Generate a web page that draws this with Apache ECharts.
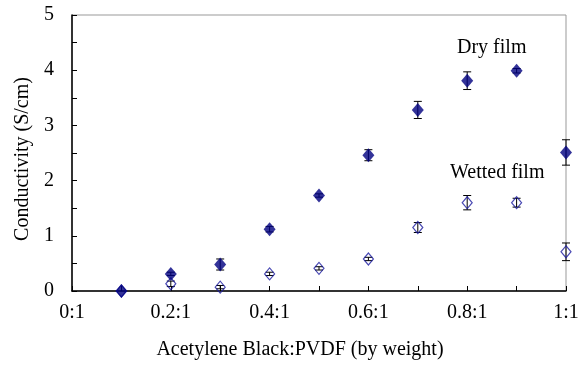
<!DOCTYPE html>
<html><head><meta charset="utf-8">
<script src="https://cdn.jsdelivr.net/npm/echarts@6/dist/echarts.min.js"></script>
<style>html,body{margin:0;padding:0;background:#fff}#c{width:587px;height:371px}</style>
</head><body><div id="c"></div>
<script>
const ratios = [0.1, 0.2, 0.3, 0.4, 0.5, 0.6, 0.7, 0.8, 0.9, 1.0];
const dryFilm = [0.0, 0.31, 0.48, 1.12, 1.73, 2.46, 3.28, 3.81, 3.99, 2.51];
const dryErr = [0.0, 0.03, 0.1, 0.05, 0.03, 0.1, 0.155, 0.16, 0.04, 0.23];
const wettedFilm = [0.0, 0.13, 0.07, 0.31, 0.41, 0.58, 1.15, 1.6, 1.6, 0.71];
const wettedErr = [0.0, 0.05, 0.03, 0.03, 0.03, 0.03, 0.09, 0.13, 0.08, 0.16];
const xTickLabels = {0: '0:1', 2: '0.2:1', 4: '0.4:1', 6: '0.6:1', 8: '0.8:1', 10: '1:1'};

const font = 'Liberation Serif';
const fs = 20;
const chart = echarts.init(document.getElementById('c'));

function errData(vals, errs) {
  return ratios.map((x, i) => [x, vals[i] - errs[i], vals[i] + errs[i]]);
}
function errRender(params, api) {
  const x = api.value(0);
  const lo = api.coord([x, api.value(1)]);
  const hi = api.coord([x, api.value(2)]);
  const cap = 4;
  if (Math.abs(lo[1] - hi[1]) < 0.5) return null;
  return {
    type: 'group',
    children: [
      {type: 'line', shape: {x1: lo[0], y1: lo[1], x2: hi[0], y2: hi[1]}, style: {stroke: '#000', lineWidth: 1}},
      {type: 'line', shape: {x1: lo[0] - cap, y1: lo[1], x2: lo[0] + cap, y2: lo[1]}, style: {stroke: '#000', lineWidth: 1}},
      {type: 'line', shape: {x1: hi[0] - cap, y1: hi[1], x2: hi[0] + cap, y2: hi[1]}, style: {stroke: '#000', lineWidth: 1}}
    ]
  };
}

chart.setOption({
  animation: false,
  backgroundColor: '#fff',
  grid: {left: 72, right: 21, top: 15, bottom: 80, show: true, borderColor: '#999', borderWidth: 1},
  xAxis: {
    type: 'value', min: 0, max: 1, interval: 0.1,
    name: 'Acetylene Black:PVDF (by weight)', nameLocation: 'middle', nameGap: 49,
    nameTextStyle: {fontFamily: font, fontSize: fs, color: '#000', padding: [0, 38, 0, 0]},
    axisLine: {show: true, lineStyle: {color: '#000', width: 1.5}},
    axisTick: {show: true, inside: true, length: 5, lineStyle: {color: '#000'}},
    axisLabel: {
      fontFamily: font, fontSize: fs, color: '#000', margin: 12,
      formatter: function (v) { const k = Math.round(v * 10); return xTickLabels[k] || ''; }
    },
    splitLine: {show: false}
  },
  yAxis: {
    type: 'value', min: 0, max: 5, interval: 0.5,
    name: 'Conductivity (S/cm)', nameLocation: 'middle', nameGap: 38, nameRotate: 90,
    nameTextStyle: {fontFamily: font, fontSize: fs, color: '#000', padding: [0, 12, 0, 0]},
    axisLine: {show: true, lineStyle: {color: '#000', width: 1.5}},
    axisTick: {show: true, inside: true, length: 5, lineStyle: {color: '#000'}},
    axisLabel: {
      fontFamily: font, fontSize: fs, color: '#000', margin: 18,
      formatter: function (v) { return Math.abs(v - Math.round(v)) < 1e-6 ? String(Math.round(v)) : ''; }
    },
    splitLine: {show: false}
  },
  series: [
    {type: 'custom', name: 'dryErr', renderItem: errRender, data: errData(dryFilm, dryErr), z: 1},
    {type: 'custom', name: 'wetErr', renderItem: errRender, data: errData(wettedFilm, wettedErr), z: 1},
    {
      type: 'scatter', name: 'Wetted film', symbol: 'diamond', symbolSize: [10, 12],
      itemStyle: {color: 'rgba(255,255,255,0)', borderColor: '#1a1aa0', borderWidth: 1.2},
      data: ratios.map((x, i) => [x, wettedFilm[i]]), z: 3
    },
    {
      type: 'scatter', name: 'Dry film', symbol: 'diamond', symbolSize: [12, 14],
      itemStyle: {color: '#00007f'},
      data: ratios.map((x, i) => [x, dryFilm[i]]), z: 4
    }
  ],
  graphic: [
    {type: 'text', left: 457, top: 38, style: {text: 'Dry film', fontFamily: font, fontSize: fs, fill: '#000'}},
    {type: 'text', left: 450, top: 163, style: {text: 'Wetted film', fontFamily: font, fontSize: fs, fill: '#000'}}
  ]
});
</script></body></html>
